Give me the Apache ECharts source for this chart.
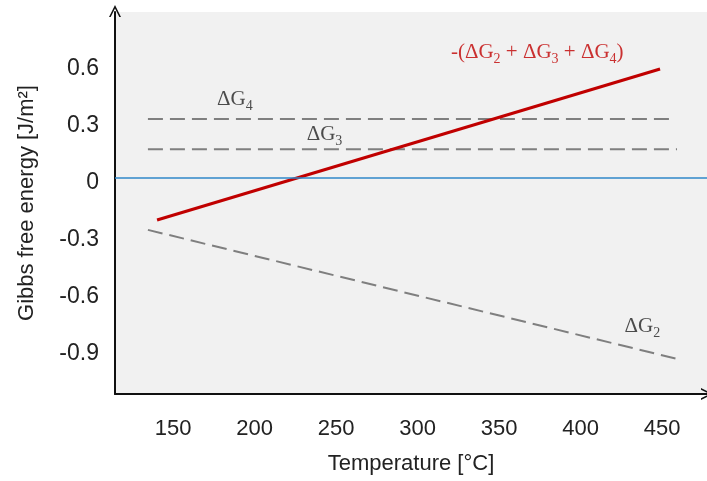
<!DOCTYPE html>
<html>
<head>
<meta charset="utf-8">
<script src="https://cdn.jsdelivr.net/npm/echarts@6/dist/echarts.min.js"></script>
<style>html,body{margin:0;padding:0;background:#fff}#c{width:707px;height:481px}</style>
</head>
<body>
<div id="c"></div>
<script>
// Data
var xTicks = [150, 200, 250, 300, 350, 400, 450];
var yTicks = [-0.9, -0.6, -0.3, 0, 0.3, 0.6];
var dG4 = [[134.6, 0.31], [456.1, 0.31]];
var dG3 = [[134.6, 0.151], [459.2, 0.151]];
var dG2 = [[134.6, -0.273], [459.2, -0.952]];
var sumNeg = [[140.2, -0.221], [448.8, 0.574]];
var labelNames = ['4', '3', '2', 'sum'];
var labelPos = [[177, 0.411], [232, 0.227], [427, -0.784], [320.5, 0.658]];

var sansFont = 'Liberation Sans';
var serifFont = 'Liberation Serif';
var arrowPath = 'path://M0,10 L5,0 L10,10 L8.6,10 L5,3 L1.4,10 Z';

function gLabel(sub) {
  return '{m|ΔG}{s|' + sub + '}';
}
var rich = {
  m: {fontFamily: serifFont, fontSize: 21, color: '#222'},
  s: {fontFamily: serifFont, fontSize: 14, color: '#222', padding: [12, 0, 0, 0]},
  rm: {fontFamily: serifFont, fontSize: 21, color: '#c00000'},
  rs: {fontFamily: serifFont, fontSize: 14, color: '#c00000', padding: [12, 0, 0, 0]}
};
function labelText(name) {
  if (name === 'sum') {
    return '{rm|-(ΔG}{rs|2}{rm| + ΔG}{rs|3}{rm| + ΔG}{rs|4}{rm|)}';
  }
  return gLabel(name);
}

var chart = echarts.init(document.getElementById('c'), null, {renderer: 'canvas'});
var dashStyle = {color: '#7f7f7f', width: 2, type: [15, 7]};
chart.setOption({
  animation: false,
  grid: {left: 115, right: 0, top: 12, bottom: 87, show: true, backgroundColor: '#f1f1f1', borderWidth: 0},
  xAxis: {
    type: 'value', min: 114.4, max: 477.6,
    name: 'Temperature [°C]', nameLocation: 'middle', nameGap: 59,
    nameTextStyle: {fontFamily: sansFont, fontSize: 22, color: '#222'},
    axisLine: {show: true, onZero: false, lineStyle: {color: '#111', width: 2}, symbol: ['none', arrowPath], symbolSize: [12, 14], symbolOffset: [0, 0]},
    axisTick: {show: false},
    splitLine: {show: false},
    axisLabel: {customValues: xTicks, margin: 24, fontFamily: sansFont, fontSize: 22, color: '#222'}
  },
  yAxis: {
    type: 'value', min: -1.1368, max: 0.8737,
    name: 'Gibbs free energy [J/m²]', nameLocation: 'middle', nameGap: 77, nameRotate: 90,
    nameTextStyle: {fontFamily: sansFont, fontSize: 22, color: '#222'},
    axisLine: {show: true, onZero: false, lineStyle: {color: '#111', width: 2}, symbol: ['none', arrowPath], symbolSize: [12, 14], symbolOffset: [0, 1]},
    axisTick: {show: false},
    splitLine: {show: false},
    axisLabel: {customValues: yTicks, margin: 16, color: '#222',
      rich: {t: {fontFamily: sansFont, fontSize: 23, color: '#222', padding: [9, 0, 0, 0]}},
      formatter: function (v) { return '{t|' + (Math.abs(v) < 1e-9 ? '0' : String(+v.toFixed(1))) + '}'; }}
  },
  series: [
    {type: 'line', data: dG4, symbol: 'none', lineStyle: dashStyle, z: 3,
      markLine: {silent: true, symbol: 'none', label: {show: false},
        lineStyle: {color: '#2f87c8', width: 1.5, type: 'solid'}, data: [{yAxis: 0}]}},
    {type: 'line', data: dG3, symbol: 'none', lineStyle: dashStyle, z: 3},
    {type: 'line', data: dG2, symbol: 'none', lineStyle: dashStyle, z: 3},
    {type: 'line', data: sumNeg, symbol: 'none', lineStyle: {color: '#c00000', width: 3}, z: 4},
    {type: 'scatter', symbolSize: 0, silent: true, z: 5,
      data: labelPos.map(function (p, i) { return {value: p, name: labelNames[i]}; }),
      label: {show: true, position: 'right', distance: 0, align: 'left', verticalAlign: 'middle',
        formatter: function (p) { return labelText(p.name); }, rich: rich}}
  ]
});
</script>
</body>
</html>
